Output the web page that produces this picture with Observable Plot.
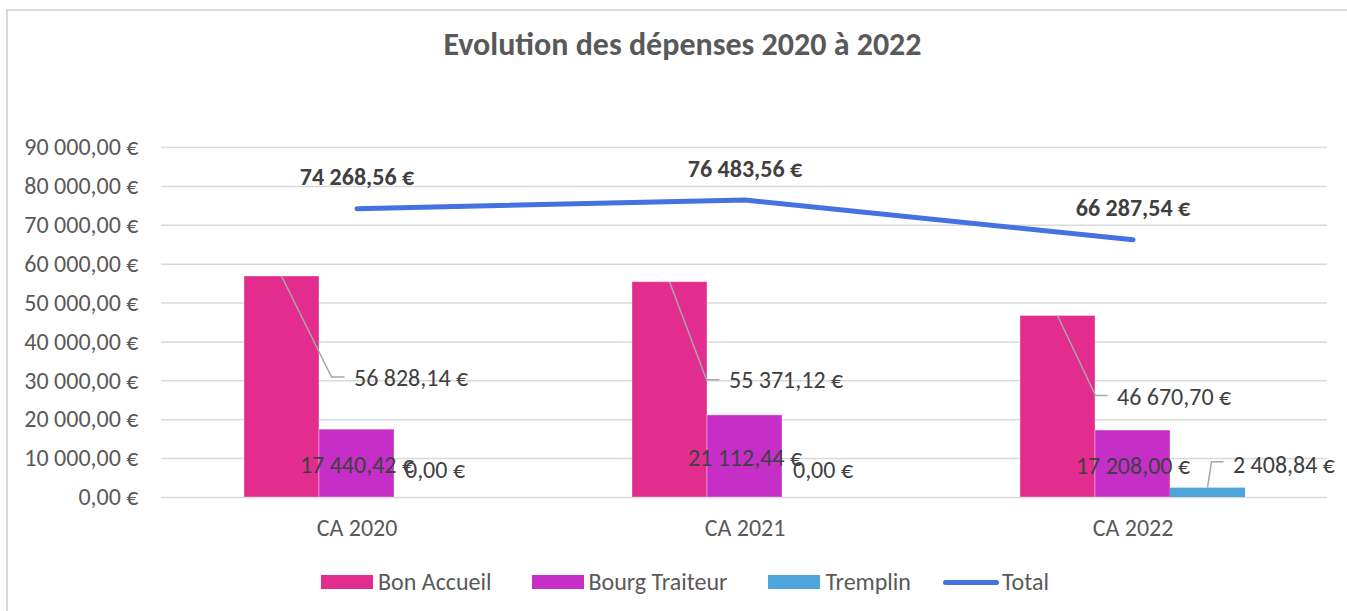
<!DOCTYPE html>
<html>
<head>
<meta charset="utf-8">
<script src="https://cdn.jsdelivr.net/npm/d3@7"></script>
<script src="https://cdn.jsdelivr.net/npm/@observablehq/plot@0.6"></script>
<style>
  html, body { margin: 0; padding: 0; background: #fff; }
  #wrap { position: relative; width: 1347px; height: 611px; overflow: hidden; font-family: Carlito, Lato, sans-serif; }
  #frame { position: absolute; left: 6px; top: 9px; width: 1400px; height: 700px; border-left: 2px solid #d9d9d9; border-top: 2px solid #d9d9d9; box-sizing: border-box; }
  #title { position: absolute; left: 0; width: 1365px; top: 25px; text-align: center; font-weight: bold; font-size: 32px; color: #595959; line-height: 40px; }
  #chart { position: absolute; left: 0; top: 0; }
  #legend { position: absolute; left: 321px; top: 566px; height: 32px; display: flex; align-items: center; font-size: 24px; color: #595959; line-height: 32px; }
  .item { display: flex; align-items: center; }
  .sw { width: 52px; height: 14px; margin-right: 5px; }
  .ln { width: 56px; height: 5px; border-radius: 3px; margin-right: 3px; }
</style>
</head>
<body>
<div id="wrap">
  <div id="frame"></div>
  <div id="chart"></div>
  <div id="title"></div>
  <div id="legend"></div>
</div>
<script>
// ---- data ----
const title = "Evolution des dépenses 2020 à 2022";
const categories = ["CA 2020", "CA 2021", "CA 2022"];
const seriesNames = ["Bon Accueil", "Bourg Traiteur", "Tremplin", "Total"];
const bonAccueil = [56828.14, 55371.12, 46670.70];
const bourgTraiteur = [17440.42, 21112.44, 17208.00];
const tremplin = [0, 0, 2408.84];
const total = [74268.56, 76483.56, 66287.54];
const yTicks = [0, 10000, 20000, 30000, 40000, 50000, 60000, 70000, 80000, 90000];

// ---- styles / layout (label placement as in the original) ----
const colors = ["#E32D8E", "#C52FC8", "#4EA5DA", "#4472E0"];
const bonLabelOff = [[72, 102], [59, 98], [59, 81]];   // dx, dy from bar top centre
const bonKneeOff = [[50, 101], [37, 98], [38, 80]];
const bourgLabelOff = [[0, 36], [0, 43], [0, 36]];
const tremLabelOff = [[3, -27], [3, -27], [25, -23]];
const tremKneeOff = [null, null, [4, -26]];
const legendGaps = [40, 41, 32, 0];

const loc = d3.formatLocale({decimal: ",", thousands: "\u00a0", grouping: [3], currency: ["", "\u00a0€"]});
const f2 = loc.format(",.2f");
const euro = v => f2(v) + "\u00a0€";

const rows = categories.map((c, i) => ({cat: c, bon: bonAccueil[i], bourg: bourgTraiteur[i], trem: tremplin[i], total: total[i]}));

const FONT = "Carlito, Lato, sans-serif";
const FS = 24;
const labelColor = "#404040";

const labelMarks = rows.flatMap((r, i) => [
  Plot.text([r], {x: "cat", y: "bon", text: d => euro(d.bon), dx: -75 + bonLabelOff[i][0], dy: bonLabelOff[i][1], textAnchor: "start", fill: labelColor, fontSize: FS}),
  Plot.text([r], {x: "cat", y: "bourg", text: d => euro(d.bourg), dx: bourgLabelOff[i][0], dy: bourgLabelOff[i][1], fill: labelColor, fontSize: FS}),
  Plot.text([r], {x: "cat", y: "trem", text: d => euro(d.trem), dx: 75 + tremLabelOff[i][0], dy: tremLabelOff[i][1], textAnchor: tremKneeOff[i] ? "start" : "middle", fill: labelColor, fontSize: FS}),
  Plot.text([r], {x: "cat", y: "total", text: d => euro(d.total), dy: -31, fontWeight: "bold", fill: labelColor, fontSize: FS})
]);

const chart = Plot.plot({
  width: 1347,
  height: 611,
  marginTop: 147,
  marginBottom: 114,
  marginLeft: 161,
  marginRight: 20,
  style: {fontFamily: FONT, fontSize: FS + "px", color: "#595959", background: "transparent"},
  x: {domain: categories, paddingInner: 0.807, paddingOuter: 0.4035, label: null},
  y: {domain: [0, 90000], label: null},
  marks: [
    Plot.gridY(yTicks, {stroke: "#d9d9d9", strokeOpacity: 1, strokeWidth: 1.5}),
    Plot.axisY({ticks: yTicks, tickFormat: euro, tickSize: 0, tickPadding: 23, fontSize: FS, fill: "#595959", label: null}),
    Plot.axisX({tickSize: 0, tickPadding: 21, fontSize: FS, fill: "#595959", label: null}),
    Plot.barY(rows, {x: "cat", y: "bon", fill: colors[0], dx: -75, stroke: "#fff", strokeOpacity: 0.35, strokeWidth: 1}),
    Plot.barY(rows, {x: "cat", y: "bourg", fill: colors[1], stroke: "#fff", strokeOpacity: 0.35, strokeWidth: 1}),
    Plot.barY(rows, {x: "cat", y: "trem", fill: colors[2], dx: 75}),
    Plot.line(rows, {x: "cat", y: "total", stroke: colors[3], strokeWidth: 5, strokeLinecap: "round", strokeLinejoin: "round"}),
    ...labelMarks
  ]
});

document.getElementById("chart").appendChild(chart);

// leader lines, placed with the chart's own scales
const sx = chart.scale("x"), sy = chart.scale("y");
const cx = c => sx.apply(c) + sx.bandwidth / 2;
const svg = d3.select(chart);
const leaderG = svg.append("g").attr("fill", "none").attr("stroke", "#a6a6a6").attr("stroke-width", 1.5);
rows.forEach((r, i) => {
  const x0 = cx(r.cat) - 75, y0 = sy.apply(r.bon);
  const k = bonKneeOff[i], l = bonLabelOff[i];
  leaderG.append("path").attr("d", `M${x0},${y0}L${x0 + k[0]},${y0 + k[1]}L${x0 + l[0] - 9},${y0 + k[1]}`);
  if (tremKneeOff[i]) {
    const tx = cx(r.cat) + 75, ty = sy.apply(r.trem);
    const tk = tremKneeOff[i], tl = tremLabelOff[i];
    leaderG.append("path").attr("d", `M${tx},${ty}L${tx + tk[0]},${ty + tk[1]}L${tx + tl[0] - 9},${ty + tk[1]}`);
  }
});
// bring labels above the leaders
svg.selectAll("g[aria-label=text]").raise();

document.getElementById("title").textContent = title;

const legend = document.getElementById("legend");
seriesNames.forEach((name, i) => {
  const it = document.createElement("div");
  it.className = "item";
  it.style.marginRight = legendGaps[i] + "px";
  const sw = document.createElement("div");
  sw.className = i === 3 ? "ln" : "sw";
  sw.style.background = colors[i];
  const tx = document.createElement("span");
  tx.textContent = name;
  it.appendChild(sw); it.appendChild(tx);
  legend.appendChild(it);
});
</script>
</body>
</html>
